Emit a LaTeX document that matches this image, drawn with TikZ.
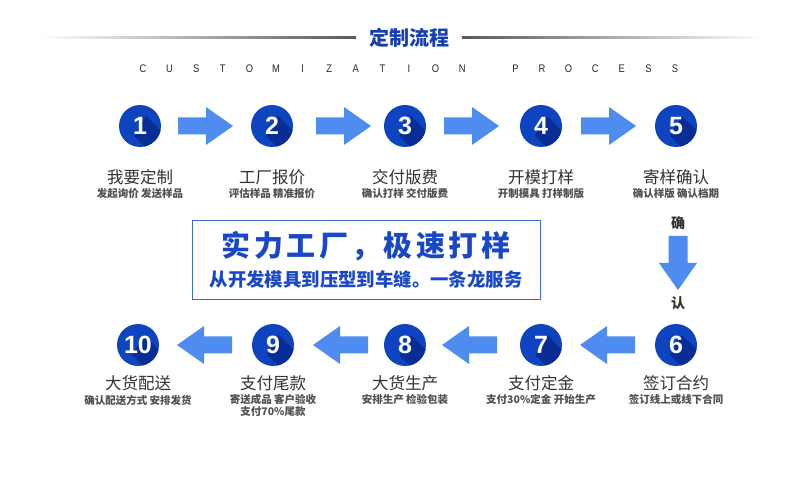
\documentclass[tikz,border=0pt]{standalone}
\usepackage{fontspec}
\newfontfamily\cjk{Noto Sans CJK SC}
\newfontfamily\numf{Liberation Sans}
\usetikzlibrary{calc}
\definecolor{cblue}{RGB}{14,68,192}
\definecolor{cdark}{RGB}{8,46,150}
\definecolor{arblue}{RGB}{78,140,240}
\definecolor{titleblue}{RGB}{22,62,176}
\definecolor{boxblue}{RGB}{60,110,215}
\definecolor{boxtext}{RGB}{24,72,200}
\definecolor{maintext}{RGB}{50,50,50}
\definecolor{subtext}{RGB}{80,80,80}
\newcommand\stepcirc[4]{%
  \node[circ] (#1) at (#2,#3) {};
  \begin{scope}
    \clip (#1) circle (21pt);
    \fill[cdark] ($(#1)+(6,-10)$) -- ++(44,44) -- ++(-12,20) -- ($(#1)+(-6,10)$) -- cycle;
  \end{scope}
  \node[numlab] at (#1) {#4};
}
\newcommand\rarr[2]{%
  \fill[arblue] (#1-27,#2-8.5) -- (#1+1,#2-8.5) -- (#1+1,#2-19) -- (#1+28,#2) -- (#1+1,#2+19) -- (#1+1,#2+8.5) -- (#1-27,#2+8.5) -- cycle;
}
\newcommand\larr[2]{%
  \fill[arblue] (#1+27,#2-8.5) -- (#1-1,#2-8.5) -- (#1-1,#2-19) -- (#1-28,#2) -- (#1-1,#2+19) -- (#1-1,#2+8.5) -- (#1+27,#2+8.5) -- cycle;
}
\begin{document}
\begin{tikzpicture}[x=1pt,y=-1pt,
  circ/.style={circle, fill=cblue, minimum size=42pt, inner sep=0pt},
  numlab/.style={text=white, font=\numf\bfseries\fontsize{25}{25}\selectfont, inner sep=0pt},
  mainlab/.style={text=maintext, font=\cjk\fontsize{16.5}{17}\selectfont, inner sep=0pt},
  sublab/.style={text=subtext, font=\cjk\bfseries\fontsize{10.5}{12.5}\selectfont, inner sep=0pt, align=center},
  letter/.style={text=black!85, font=\numf\fontsize{11}{11}\selectfont, inner sep=0pt, xscale=0.85}
]
\useasboundingbox (0,0) rectangle (790,478);
\fill[white] (0,0) rectangle (790,478);
% title
\shade[left color=white, right color=black!65] (40,37) rectangle (356,39);
\shade[left color=black!65, right color=white] (462,37) rectangle (765,39);
\node[text=titleblue, font=\cjk\bfseries\fontsize{20}{20}\selectfont, inner sep=0pt] (title) at (409,38) {定制流程};
\foreach \c [count=\i from 0] in {C,U,S,T,O,M,I,Z,A,T,I,O,N}
  \node[letter] at (143+\i*26.6,69) {\c};
\foreach \c [count=\i from 14] in {P,R,O,C,E,S,S}
  \node[letter] at (143+\i*26.6,69) {\c};
% row 1
\stepcirc{c1}{140}{126}{1}
\stepcirc{c2}{272}{126}{2}
\stepcirc{c3}{405}{126}{3}
\stepcirc{c4}{541}{126}{4}
\stepcirc{c5}{676}{126}{5}
\rarr{205}{126}
\rarr{343}{126}
\rarr{471}{126}
\rarr{608}{126}
\node[mainlab] (m1) at (140,177) {我要定制};
\node[sublab] (s1) at (140,194) {发起询价 发送样品};
\node[mainlab] (m2) at (272,177) {工厂报价};
\node[sublab] (s2) at (272,194) {评估样品 精准报价};
\node[mainlab] (m3) at (405,177) {交付版费};
\node[sublab] (s3) at (405,194) {确认打样 交付版费};
\node[mainlab] (m4) at (541,177) {开模打样};
\node[sublab] (s4) at (541,194) {开制模具 打样制版};
\node[mainlab] (m5) at (676,177) {寄样确认};
\node[sublab] (s5) at (676,194) {确认样版 确认档期};
% box
\node[draw=boxblue, line width=0.9pt, minimum width=348pt, minimum height=79pt, inner sep=0pt] (box) at (366,259.5) {};
\node[text=boxtext, font=\cjk\bfseries\fontsize{29}{29}\selectfont\addfontfeature{LetterSpace=12}, inner sep=0pt] (b1) at (366,246) {实力工厂，极速打样};
\node[text=boxtext, font=\cjk\bfseries\fontsize{18.4}{19}\selectfont, inner sep=0pt] (b2) at (366,279) {从开发模具到压型到车缝。一条龙服务};
% down arrow
\node[text=maintext, font=\cjk\bfseries\fontsize{14}{14}\selectfont, inner sep=0pt] (q1) at (678,223) {确};
\fill[arblue] (668.5,236) -- (687.5,236) -- (687.5,263) -- (697,263) -- (678,290) -- (659,263) -- (668.5,263) -- cycle;
\node[text=maintext, font=\cjk\bfseries\fontsize{14}{14}\selectfont, inner sep=0pt] (q2) at (678,303) {认};
% row 2
\stepcirc{c6}{676}{345}{6}
\stepcirc{c7}{541}{345}{7}
\stepcirc{c8}{405}{345}{8}
\stepcirc{c9}{273}{345}{9}
\stepcirc{c10}{138}{345}{10}
\larr{608}{345}
\larr{470}{345}
\larr{341}{345}
\larr{205}{345}
\node[mainlab] (m6) at (676,383) {签订合约};
\node[sublab] (s6) at (676,400) {签订线上或线下合同};
\node[mainlab] (m7) at (541,383) {支付定金};
\node[sublab] (s7) at (541,400) {支付30\%定金 开始生产};
\node[mainlab] (m8) at (405,383) {大货生产};
\node[sublab] (s8) at (405,400) {安排生产 检验包装};
\node[mainlab] (m9) at (273,383) {支付尾款};
\node[sublab, anchor=north] (s9) at (273,394) {寄送成品 客户验收\\支付70\%尾款};
\node[mainlab] (m10) at (138,383) {大货配送};
\node[sublab] (s10) at (138,400) {确认配送方式 安排发货};
\end{tikzpicture}
\end{document}
